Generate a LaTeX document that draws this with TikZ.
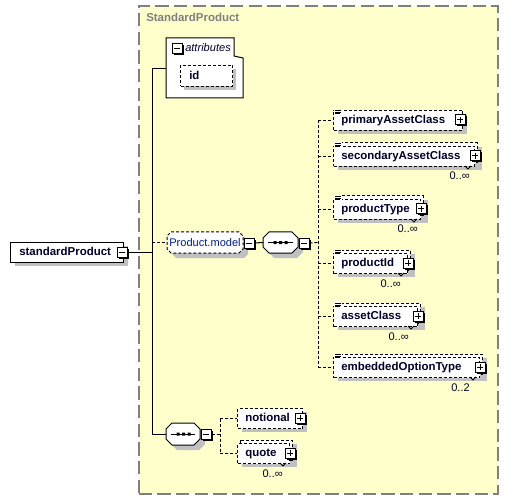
\documentclass[tikz,border=0pt]{standalone}
\usepackage{fontspec}
\setmainfont{Liberation Sans}
\definecolor{ybg}{RGB}{255,255,204}
\definecolor{bgray}{RGB}{128,128,128}
\definecolor{shgray}{RGB}{192,192,192}
\definecolor{navy}{RGB}{0,0,40}
\definecolor{grpblue}{RGB}{0,32,128}
\tikzset{
 dsh/.style={dash pattern=on 2.25pt off 1.5pt},
 conn/.style={line width=0.75pt, draw=black},
 dconn/.style={conn, dsh},
 ebox/.style={draw, fill=white, line width=0.75pt, inner sep=0pt},
 dbox/.style={ebox, dsh},
 sh/.style={fill=shgray},
 grp/.style={draw, fill=white, line width=0.75pt, dsh},
 cmp/.style={draw, fill=white, line width=0.75pt},
 container/.style={draw=bgray, fill=ybg, line width=1.2pt, dash pattern=on 10pt off 4pt, inner sep=0pt},
 etext/.style={font=\fontsize{8.6}{10}\selectfont\bfseries, text=navy, inner sep=0pt},
 ttl/.style={font=\fontsize{8.6}{10}\selectfont\bfseries, text=bgray, inner sep=0pt},
 itext/.style={font=\fontsize{8.3}{10}\selectfont\itshape, text=navy, inner sep=0pt},
 gtext/.style={font=\fontsize{8.3}{10}\selectfont, text=grpblue, inner sep=0pt},
 occ/.style={font=\fontsize{8.3}{10}\selectfont, text=navy, inner sep=0pt},
 pmbox/.style={draw, fill=white, minimum size=7.5pt, inner sep=0pt, line width=0.75pt},
 anchorbox/.style={inner sep=0pt, outer sep=0pt},
}
% plus / minus box: name, x, y, plus(1)/minus(0)
\newcommand\xpm[4]{%
 \fill[black] (#2-3.5,#3-3.5) rectangle (#2+6.5,#3+6.5);%
 \node[pmbox] (#1) at (#2,#3) {};%
 \draw[line width=0.75pt] (#2-3,#3) -- (#2+3,#3);%
 \ifnum#4=1 \draw[line width=0.75pt] (#2,#3-3) -- (#2,#3+3);\fi}
% chamfered polygon: l t r b chamfer style
\newcommand\xoct[6]{%
 \path[#6] (#1+#5,#2) -- (#3-#5,#2) -- (#3,#2+#5) -- (#3,#4-#5) -- (#3-#5,#4) -- (#1+#5,#4) -- (#1,#4-#5) -- (#1,#2+#5) -- cycle;}
% element: name, text, left, front top, front right, multi, icon
\newcommand\xel[7]{%
 \pgfmathsetmacro\xoR{#5+3*#6}%
 \pgfmathsetmacro\xoT{#4-3*#6}%
 \fill[sh] (#3+5,\xoT+4) rectangle (\xoR+5,#4+24);%
 \ifnum#6=1 \path[dbox] (#3+3,\xoT) rectangle (\xoR,\xoT+20);\fi
 \node[dbox, anchor=north west, minimum width={(#5-#3)*0.75pt}, minimum height=15pt] (#1) at (#3,#4) {};%
 \ifnum#6=1 \draw[line width=0.6pt] (#5-9,#4+20) -- (#5-6,#4+23) -- (#5-3,#4+20);\fi
 \node[etext, anchor=base west] (#1T) at (#3+8,#4+13.5) {#2};%
 \ifnum#7=1 \fill[white] (#3+1,\xoT-0.6) rectangle (#3+9,\xoT+4.4);%
   \draw[line width=0.55pt] (#3+2,\xoT+0.4) -- +(6,0) (#3+2,\xoT+2) -- +(6,0) (#3+2,\xoT+3.6) -- +(5,0);\fi
 \xpm{#1P}{\xoR-2}{#4+10}{1}%
}
\begin{document}
\begin{tikzpicture}[x=0.75pt,y=-0.75pt]
\useasboundingbox (0,0) rectangle (507,499);
\node[container, anchor=north west, minimum width={359*0.75pt}, minimum height={488*0.75pt}] (cont) at (138,5) {};
\node[ttl, anchor=base west] (contT) at (146,22) {StandardProduct};

% junction coordinates of the trunk
\coordinate (ja) at (152,69);
\coordinate (jp) at (152,242.5);
\coordinate (js) at (152,252);
\coordinate (jq) at (152,434);

% standardProduct
\fill[sh] (15,246) rectangle (128,266);
\node[ebox, anchor=north west, minimum width={113*0.75pt}, minimum height=15pt] (sp) at (10,242) {};
\node[etext, anchor=base west] (spT) at (19,255.5) {standardProduct};
\xpm{spM}{122}{252}{0}

% attributes
\node[anchorbox, anchor=north west, minimum width={77*0.75pt}, minimum height={60*0.75pt}] (attr) at (166,38) {};
\draw[conn, fill=white] (166,38) -| (234,56) -- (243,58) |- (166,98) -- cycle;
\xpm{attrM}{177}{49}{0}
\node[itext, anchor=base west] (attrT) at (185,52) {attributes};
\fill[sh] (184,69) rectangle (236,90);
\node[dbox, anchor=north west, minimum width={52*0.75pt}, minimum height={21*0.75pt}] (id) at (180,65) {};
\node[etext, anchor=base west] (idT) at (189,79.5) {id};

% Product.model group
\node[anchorbox, minimum width={76*0.75pt}, minimum height={21*0.75pt}] (pm) at (205,242.5) {};
\xoct{172}{237}{248}{258}{4}{sh}
\xoct{167}{232}{243}{253}{4}{grp}
\node[gtext] (pmT) at (205,242.5) {Product.model};
\xpm{pmM}{249}{243}{0}

% sequence 1
\node[anchorbox, minimum width={35*0.75pt}, minimum height={21*0.75pt}] (sq1) at (280.5,242.5) {};
\xoct{268}{237}{303}{258}{6}{sh}
\xoct{263}{232}{298}{253}{6}{cmp}
\draw[line width=0.75pt] (268,242.5) -- (293,242.5);
\fill (273.5,241) rectangle (276.5,244) (279,241) rectangle (282,244) (284.5,241) rectangle (287.5,244);
\xpm{sq1M}{304}{243}{0}

% children of sequence 1
\xel{pac}{primaryAssetClass}{333}{110}{462}{0}{1}
\xel{sac}{secondaryAssetClass}{333}{146}{474}{1}{1}
\xel{pty}{productType}{333}{199}{420}{1}{1}
\xel{pid}{productId}{333}{253}{407}{1}{1}
\xel{acl}{assetClass}{333}{306}{417}{1}{1}
\xel{eot}{embeddedOptionType}{333}{357}{479}{1}{1}
\node[occ, anchor=base east] (sacO) at (470,180) {0..∞};
\node[occ, anchor=base east] (ptyO) at (418,233) {0..∞};
\node[occ, anchor=base east] (pidO) at (401,287) {0..∞};
\node[occ, anchor=base east] (aclO) at (409,340) {0..∞};
\node[occ, anchor=base east] (eotO) at (470,391) {0..2};

% sequence 2
\node[anchorbox, minimum width={34*0.75pt}, minimum height={22*0.75pt}] (sq2) at (183,434) {};
\xoct{171}{428}{205}{450}{6}{sh}
\xoct{166}{423}{200}{445}{6}{cmp}
\draw[line width=0.75pt] (171,434) -- (195,434);
\fill (176.5,432.5) rectangle (179.5,435.5) (182,432.5) rectangle (185,435.5) (187.5,432.5) rectangle (190.5,435.5);
\xpm{sq2M}{206}{434}{0}

\xel{not}{notional}{237}{408}{302}{0}{0}
\xel{quo}{quote}{237}{443}{289}{1}{0}
\node[occ, anchor=base east] (quoO) at (283,477) {0..∞};

% connectors
\draw[conn] (spM.east) -- (js);
\draw[conn] (ja) -- (jq);
\draw[conn] (ja) -- (ja -| attr.west);
\draw[dconn] (jp) -- (pm.west);
\draw[conn] (pmM.east) -- (sq1.west);
\coordinate (jc) at (318,242.5);
\draw[dconn] (sq1M.east) -- (jc);
\draw[dconn] (pac.west -| jc) -- (eot.west -| jc);
\foreach \n in {pac,sac,pty,pid,acl,eot}{\draw[dconn] (\n.west -| jc) -- (\n.west);}
\draw[conn] (jq) -- (sq2.west);
\coordinate (jd) at (220,434);
\draw[dconn] (sq2M.east) -- (jd);
\draw[dconn] (not.west -| jd) -- (quo.west -| jd);
\draw[dconn] (not.west -| jd) -- (not.west);
\draw[dconn] (quo.west -| jd) -- (quo.west);
\end{tikzpicture}
\end{document}
